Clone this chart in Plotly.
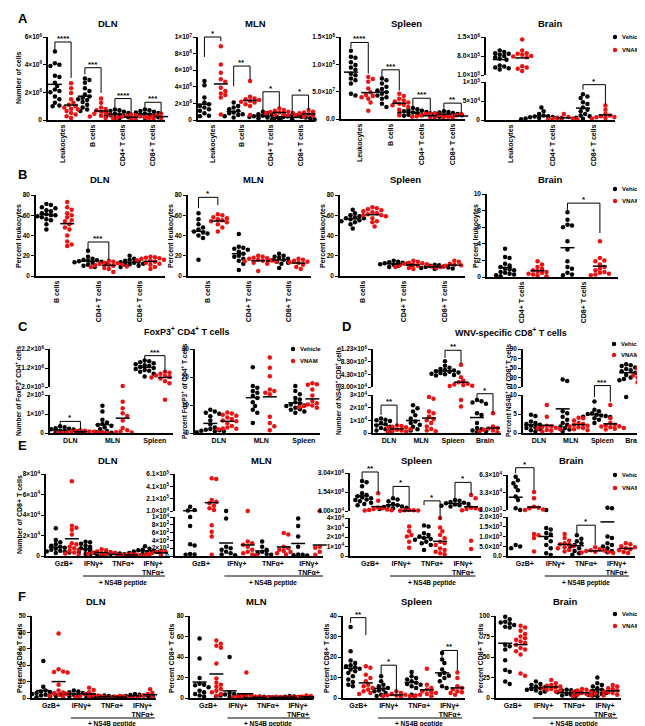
import plotly.graph_objects as go

W, H = 645, 726
BLACK = '#000000'
RED = '#ee1111'
FONT = 'Arial, Liberation Sans, Helvetica, sans-serif'
DIAM = 4.5

# ---------------- categories ----------------
A_cats = ['Leukocytes', 'B cells', 'CD4+ T cells', 'CD8+ T cells']
A_brain_cats = ['Leukocytes', 'CD4+ T cells', 'CD8+ T cells']
B_cats = ['B cells', 'CD4+ T cells', 'CD8+ T cells']
B_brain_cats = ['CD4+ T cells', 'CD8+ T cells']
C_cats = ['DLN', 'MLN', 'Spleen']
D_cats = ['DLN', 'MLN', 'Spleen', 'Brain']
E_cats = ['GzB+', 'IFNγ+', 'TNFα+', 'IFNγ+<br>TNFα+']

# ---------------- panel A : number of cells ----------------
A_DLN_veh = [
    [4.95e6, 4.1e6, 4.0e6, 3.9e6, 3.2e6, 3.1e6, 2.7e6, 2.45e6, 2.2e6, 2.1e6, 2.0e6, 1.7e6, 1.5e6, 1.25e6, 1.05e6, 1.0e6],
    [3.0e6, 2.9e6, 2.7e6, 2.3e6, 2.1e6, 1.85e6, 1.7e6, 1.6e6, 1.5e6, 1.45e6, 1.3e6, 1.1e6, 0.9e6, 0.75e6, 0.65e6],
    [7.5e5, 7.0e5, 6.5e5, 6.0e5, 5.5e5, 5.0e5, 4.5e5, 4.0e5, 3.5e5, 3.0e5, 2.5e5, 2.0e5, 1.5e5, 1.0e5],
    [7.5e5, 7.0e5, 6.5e5, 6.0e5, 5.5e5, 5.0e5, 4.5e5, 4.0e5, 3.5e5, 3.0e5, 2.5e5, 2.0e5, 1.5e5]]
A_DLN_vnam = [
    [2.65e6, 2.3e6, 1.95e6, 1.5e6, 1.25e6, 1.1e6, 1.0e6, 9.0e5, 8.2e5, 7.5e5, 6.5e5, 5.0e5, 4.0e5, 2.7e5, 1.5e5],
    [1.55e6, 1.25e6, 9.0e5, 8.0e5, 7.0e5, 6.0e5, 5.0e5, 4.5e5, 4.0e5, 3.0e5, 2.5e5, 1.5e5],
    [4.0e5, 3.5e5, 3.0e5, 2.8e5, 2.5e5, 2.0e5, 1.8e5, 1.5e5, 1.2e5, 1.0e5, 8.0e4, 5.0e4],
    [4.5e5, 4.0e5, 3.5e5, 3.0e5, 2.5e5, 2.0e5, 1.8e5, 1.5e5, 1.0e5, 8.0e4]]
A_MLN_veh = [
    [4.7e6, 4.2e6, 2.7e6, 2.1e6, 1.9e6, 1.7e6, 1.5e6, 1.3e6, 1.1e6, 8.0e5, 5.0e5, 4.5e5],
    [2.1e6, 1.7e6, 1.5e6, 1.3e6, 1.1e6, 9.0e5, 8.0e5, 7.0e5, 6.0e5, 4.5e5, 3.0e5],
    [1.0e6, 8.0e5, 7.0e5, 6.0e5, 5.0e5, 4.5e5, 4.0e5, 3.5e5, 3.0e5, 2.5e5, 2.0e5, 1.0e5],
    [6.0e5, 5.0e5, 4.5e5, 4.0e5, 3.5e5, 3.0e5, 2.5e5, 2.0e5, 1.5e5, 1.0e5, 5.0e4]]
A_MLN_vnam = [
    [8.9e6, 6.7e6, 5.7e6, 4.9e6, 4.6e6, 3.9e6, 3.5e6, 3.2e6, 3.0e6, 2.7e6, 6.5e5],
    [4.7e6, 2.8e6, 2.6e6, 2.5e6, 2.4e6, 2.3e6, 2.2e6, 2.1e6, 1.9e6, 1.7e6, 6.0e5],
    [1.4e6, 1.2e6, 1.1e6, 1.0e6, 9.5e5, 9.0e5, 8.5e5, 8.0e5, 7.0e5, 6.0e5, 5.0e5],
    [1.2e6, 1.0e6, 9.0e5, 8.5e5, 8.0e5, 7.5e5, 7.0e5, 6.0e5, 5.0e5, 4.0e5, 3.0e5]]
A_Spleen_veh = [
    [1.25e8, 1.14e8, 1.12e8, 1.04e8, 9.9e7, 9.4e7, 9.0e7, 8.3e7, 8.0e7, 7.4e7, 7.1e7, 6.5e7, 4.6e7, 4.3e7],
    [7.4e7, 7.1e7, 6.5e7, 5.9e7, 5.5e7, 5.2e7, 4.9e7, 4.6e7, 4.3e7, 4.0e7, 3.7e7, 2.8e7, 2.2e7],
    [2.0e7, 1.8e7, 1.6e7, 1.5e7, 1.4e7, 1.3e7, 1.2e7, 1.1e7, 1.0e7, 9.0e6, 8.0e6, 7.0e6, 6.0e6],
    [1.4e7, 1.3e7, 1.2e7, 1.1e7, 1.0e7, 9.0e6, 8.0e6, 7.0e6, 6.0e6, 5.0e6, 4.0e6]]
A_Spleen_vnam = [
    [7.7e7, 7.3e7, 6.8e7, 5.6e7, 4.9e7, 4.4e7, 4.2e7, 4.0e7, 3.7e7, 3.0e7, 1.5e7],
    [4.6e7, 4.2e7, 3.7e7, 3.4e7, 3.2e7, 3.0e7, 2.8e7, 2.6e7, 2.5e7, 2.2e7, 1.7e7, 7.0e6],
    [1.1e7, 1.0e7, 9.0e6, 8.0e6, 7.0e6, 6.0e6, 5.0e6, 4.5e6, 4.0e6, 3.0e6, 2.5e6, 2.0e6],
    [9.0e6, 8.0e6, 7.0e6, 6.0e6, 5.5e6, 5.0e6, 4.5e6, 4.0e6, 3.0e6, 2.0e6]]
A_Brain_veh = [
    [1.0e6, 9.5e5, 9.0e5, 8.8e5, 8.5e5, 8.0e5, 7.5e5, 7.0e5, 6.6e5, 4.5e5, 4.1e5, 3.8e5, 3.5e5, 3.0e5],
    [3.3e4, 2.3e4, 1.6e4, 1.2e4, 1.0e4, 9.0e3, 8.0e3, 7.0e3, 6.0e3, 5.0e3, 4.0e3, 3.0e3, 2.0e3],
    [6.8e4, 6.2e4, 5.8e4, 4.7e4, 4.2e4, 3.3e4, 2.7e4, 2.3e4, 1.6e4, 1.2e4, 1.0e4, 6.0e3, 3.0e3]]
A_Brain_vnam = [
    [1.41e6, 1.0e6, 9.0e5, 8.8e5, 8.5e5, 8.0e5, 7.8e5, 7.5e5, 4.2e5, 3.8e5, 3.3e5, 2.5e5],
    [1.6e4, 8.0e3, 6.0e3, 5.0e3, 4.0e3, 3.0e3, 2.0e3, 1.0e3],
    [3.8e4, 2.7e4, 1.6e4, 1.2e4, 1.0e4, 8.0e3, 7.0e3, 6.0e3, 5.0e3, 4.0e3]]

# ---------------- panel B : percent leukocytes ----------------
B_DLN_veh = [
    [71, 70, 68, 67, 65, 64, 62, 61, 60, 60, 59, 58, 56, 55, 51, 46],
    [25, 19, 17, 16, 15.5, 15, 14.5, 14, 13.5, 13, 12, 11, 10, 9],
    [20, 17, 16, 15, 14, 13.5, 13, 12, 11.5, 11, 10, 9]]
B_DLN_vnam = [
    [73, 68, 65.5, 62, 60, 58, 55, 54, 51, 48, 46, 40, 34, 31, 29.6],
    [15, 14, 13, 12.5, 12, 11.5, 11, 10.5, 10, 9.5, 9, 8, 7, 4],
    [19, 18.5, 18, 17.5, 17, 16, 15.5, 15, 14.5, 14, 13, 12, 11, 9, 7]]
B_MLN_veh = [
    [62, 56, 51, 48, 46, 44, 43, 42, 40, 37.5, 16],
    [41.5, 29, 28, 27, 26, 24, 22, 20, 19, 17, 15, 12, 6],
    [22, 20, 19, 18, 17, 16, 15.5, 15, 14, 13, 12, 8]]
B_MLN_vnam = [
    [61, 60, 58, 57, 56, 55, 54, 53, 51, 48, 44],
    [20, 19, 18, 17.5, 17, 16, 15.5, 15, 14.5, 14, 13, 12, 5],
    [17, 16, 15, 14, 13.5, 13, 12, 11, 9, 7]]
B_Spleen_veh = [
    [65.5, 62, 60, 59, 58, 57, 57, 56, 55, 54, 53, 51, 47],
    [15, 14, 13.5, 13, 12.5, 12, 11.5, 11, 10.5, 10, 9],
    [11, 10.5, 10, 9.5, 9, 8.5, 8, 7.5, 7]]
B_Spleen_vnam = [
    [68, 67, 66, 65, 64, 63, 62, 61, 60, 60, 59, 57, 54, 53, 49],
    [15, 14, 13, 12.5, 12, 11.5, 11, 10.5, 10, 9.5, 9, 8, 7],
    [15, 14, 12, 11, 10.5, 10, 9.5, 9, 8.5, 8]]
B_Brain_veh = [
    [3.4, 2.4, 2.3, 1.6, 1.4, 1.2, 1.0, 0.9, 0.8, 0.6, 0.5, 0.4, 0.3, 0.2, 0.1],
    [7.8, 6.9, 6.3, 6.2, 6.0, 4.3, 3.3, 1.9, 1.2, 1.0, 0.5, 0.3, 0.2]]
B_Brain_vnam = [
    [1.9, 1.5, 1.2, 1.0, 0.8, 0.7, 0.6, 0.5, 0.4, 0.3, 0.2, 0.1],
    [4.3, 2.3, 2.0, 1.9, 1.5, 1.2, 1.0, 0.8, 0.6, 0.5, 0.4, 0.3, 0.2]]

# ---------------- panel C : FoxP3+ CD4+ T cells ----------------
C_num_veh = [
    [35000, 30000, 25000, 22000, 20000, 18000, 15000, 12000, 10000, 8000, 6000, 5000, 3000, 2000],
    [143000, 113000, 70000, 55000, 48000, 42000, 38000, 30000, 20000, 10000, 5000, 2000, 1000],
    [1.6e6, 1.55e6, 1.5e6, 1.45e6, 1.4e6, 1.35e6, 1.3e6, 1.25e6, 1.2e6, 1.15e6, 1.1e6, 1.05e6, 1.0e6, 9.0e5, 7.5e5]]
C_num_vnam = [
    [15000, 12000, 10000, 8000, 7000, 6000, 5000, 4000, 3000, 2000, 1000, 500],
    [250000, 165000, 130000, 104000, 90000, 66000, 26000, 14000, 8000, 4000, 2000],
    [1.0e6, 9.5e5, 9.0e5, 8.5e5, 8.0e5, 7.8e5, 7.5e5, 7.2e5, 7.0e5, 6.5e5, 6.0e5, 5.0e5, 4.0e5, 175000]]
C_pct_veh = [
    [8.3, 7.7, 7.2, 6.9, 6.0, 4.5, 3.0, 2.0, 1.4, 1.2, 1.0, 0.8, 0.6, 0.5, 0.3],
    [23.5, 16.8, 16.2, 15.0, 14.4, 13.3, 12.5, 11.0, 9.6, 8.3, 7.2, 3.6],
    [16.8, 15.0, 13.8, 12.5, 12.0, 11.0, 10.5, 10.2, 9.8, 9.6, 9.0, 8.5, 8.3, 7.7, 7.2]]
C_pct_vnam = [
    [7.3, 7.0, 6.5, 6.2, 5.5, 5.0, 4.5, 4.2, 3.5, 2.5, 2.0, 1.6, 1.5, 1.3],
    [27.0, 23.3, 20.3, 15.5, 15.0, 14.4, 13.8, 5.8, 3.6, 2.4, 1.0],
    [17.8, 17.4, 17.2, 15.5, 13.4, 11.4, 10.6, 10.2, 10.0, 9.8, 9.6, 9.4, 9.2, 9.0]]

# ---------------- panel D : WNV-specific CD8+ T cells ----------------
D_num_veh = [
    [11500, 10500, 10000, 9500, 9000, 8000, 7000, 6000, 5000, 4000, 3000, 2000, 1000],
    [22000, 19500, 17000, 14000, 11500, 9000, 7800, 6500, 5000, 3000, 2000, 1000],
    [840000, 700000, 640000, 600000, 570000, 550000, 530000, 510000, 490000, 470000, 450000, 430000, 410000, 390000],
    [26000, 25000, 24000, 23000, 15600, 14300, 7800, 3900, 3000, 2000, 1300, 500]]
D_num_vnam = [
    [6000, 5500, 5000, 4500, 4000, 3000, 2500, 2000, 1500, 1000, 500],
    [28500, 27000, 17000, 15600, 13000, 11000, 10000, 7800, 5200, 3100, 2000, 1300],
    [730000, 340000, 230000, 180000, 130000, 110000, 90000, 70000, 60000, 26000, 21000],
    [15600, 5200, 4000, 3500, 3000, 2500, 2000, 1500, 1000, 500]]
D_pct_veh = [
    [4.8, 4.5, 3.0, 2.6, 2.4, 2.2, 1.9, 1.7, 1.5, 1.3, 1.0, 0.7, 0.4],
    [26, 22.5, 5.7, 5.2, 4.3, 3.5, 2.6, 2.2, 1.7, 1.3, 0.9, 0.4],
    [8.3, 6.1, 5.7, 5.2, 5.0, 4.8, 4.6, 4.5, 4.3, 4.2, 3.9, 3.5, 2.6],
    [58, 56, 54, 51, 48, 45, 43, 40, 35, 30, 27, 24, 9.5]]
D_pct_vnam = [
    [7.4, 4.3, 1.9, 1.7, 1.6, 1.4, 1.2, 1.0, 0.8, 0.6, 0.3],
    [4.0, 3.9, 3.3, 2.6, 2.4, 2.2, 1.9, 1.7, 1.5, 1.3, 1.0, 0.7],
    [7.4, 3.9, 2.6, 2.2, 2.0, 1.8, 1.7, 1.5, 1.3, 1.1, 0.9],
    [54, 52, 50, 48, 45, 42, 40, 38, 36, 34, 32, 30, 27, 24, 20]]

# ---------------- panel E : number of CD8+ T cells ----------------
E_DLN_veh = [
    [27000, 15500, 13500, 11500, 10000, 9000, 8000, 7000, 6000, 5000, 4500, 4000, 3500, 3000, 2500],
    [14000, 13500, 12000, 10000, 9000, 7500, 6000, 5000, 4000, 3000, 2000, 1000],
    [3000, 2500, 2000, 1800, 1500, 1200, 1000, 800, 500],
    [9500, 7000, 6000, 5500, 5000, 4500, 4000, 3500, 3000, 2000]]
E_DLN_vnam = [
    [73000, 29500, 27500, 25500, 21000, 12500, 11500, 9000, 7500, 6000, 5000, 3500, 2500, 1500],
    [6500, 5500, 4500, 4000, 3500, 3000, 2500, 2000, 1500, 1000],
    [2000, 1500, 1200, 1000, 800, 600, 500, 300],
    [5000, 4500, 4000, 3500, 3000, 2500, 2000, 1500, 1000]]
E_MLN_veh = [
    [79000, 26000, 18000, 10000, 7700, 3000, 2700, 500, 400, 300],
    [12000, 9600, 2400, 2000, 1600, 1100, 700, 400, 200],
    [3700, 2400, 1600, 1100, 700, 500, 300, 100],
    [9600, 7700, 5000, 2400, 400, 300, 200, 100]]
E_MLN_vnam = [
    [540000, 530000, 190000, 160000, 134000, 96000, 53000, 26000, 7900, 6200, 5000, 300],
    [12000, 3700, 3300, 2900, 2400, 1600, 1100, 700, 400, 200],
    [5900, 5500, 2400, 2000, 1600, 1300, 1000, 700, 400],
    [12000, 2400, 2300, 2100, 1600, 1100, 700, 300]]
E_Spleen_veh = [
    [2.4e6, 2.3e6, 2.0e6, 1.45e6, 1.3e6, 1.2e6, 1.1e6, 1.05e6, 9.5e5, 9.0e5, 8.0e5, 7.0e5, 6.0e5, 5.0e5],
    [1.05e6, 9.5e5, 8.0e5, 6.0e5, 5.0e5, 4.5e5, 4.0e5, 3.5e5, 3.0e5, 2.5e5, 2.0e5],
    [32000, 31000, 24000, 22000, 20500, 19000, 18000, 17000, 15000, 13500, 11700, 6400],
    [9.0e5, 8.4e5, 7.5e5, 7.0e5, 6.5e5, 6.0e5, 5.5e5, 5.0e5, 4.5e5, 4.0e5]]
E_Spleen_vnam = [
    [1.45e6, 8.5e5, 3.0e5, 2.5e5, 2.0e5, 1.6e5, 1.2e5, 1.0e5, 8.0e4],
    [1.2e5, 1.0e5, 9.0e4, 7.0e4, 5.0e4, 31000, 26000, 22000, 20500, 15000, 8800],
    [40000, 30000, 26000, 22000, 18800, 15000, 13500, 11700, 8000, 6400, 4600, 2800, 1800],
    [1.3e6, 1.05e6, 3.0e5, 2.5e5, 2.0e5, 1.5e5, 1.0e5, 16000, 7400]]
E_Brain_veh = [
    [60000, 54000, 49000, 43000, 37000, 26000, 20000, 5900, 3100, 570, 490, 400],
    [3100, 1440, 1360, 1180, 1100, 920, 750, 570, 400, 140, 50],
    [1060, 890, 750, 660, 570, 490, 400, 260, 140, 60],
    [7000, 6000, 1000, 920, 660, 570, 490, 400, 260, 190]]
E_Brain_vnam = [
    [34000, 23000, 8700, 7000, 6000, 4000, 3100, 1130, 1060, 920, 226],
    [1130, 920, 780, 660, 600, 570, 500, 450, 400, 310, 230],
    [450, 350, 300, 280, 250, 220, 200, 180, 150],
    [650, 600, 500, 450, 400, 350, 300, 250, 200, 150]]

# ---------------- panel F : percent CD8+ T cells ----------------
F_DLN_veh = [
    [22.5, 6.8, 4.5, 4.0, 3.5, 3.0, 2.8, 2.5, 2.0, 1.5, 1.0, 0.5],
    [4.5, 4.0, 3.5, 3.0, 2.8, 2.5, 2.2, 2.0, 1.8, 1.5, 1.2, 1.0],
    [1.5, 1.2, 1.0, 0.8, 0.6, 0.5, 0.4, 0.3, 0.2],
    [2.5, 2.0, 1.8, 1.5, 1.2, 1.0, 0.8, 0.6, 0.4]]
F_DLN_vnam = [
    [39.3, 17.6, 16.2, 15.8, 15.6, 8.1, 4.5, 3.4, 2.8, 2.4, 2.0, 1.4, 0.8],
    [6.2, 4.9, 3.5, 2.5, 2.0, 1.5, 1.2, 1.0, 0.8, 0.5],
    [1.2, 1.0, 0.8, 0.6, 0.5, 0.4, 0.3, 0.2],
    [5.3, 3.0, 2.5, 2.0, 1.5, 1.2, 1.0, 0.8, 0.5]]
F_MLN_veh = [
    [58, 38.5, 19.4, 14, 13, 12.5, 10.5, 7, 5.5, 4, 2.5, 1.5],
    [40, 5, 4, 3.5, 3, 2.5, 2, 1.5, 1],
    [1.5, 1.2, 1.0, 0.8, 0.6, 0.5, 0.4, 0.3, 0.2, 0.1],
    [2.0, 1.5, 1.2, 1.0, 0.8, 0.6, 0.5, 0.4, 0.3, 0.2]]
F_MLN_vnam = [
    [56, 53, 51, 49, 33.7, 19, 15, 13, 11, 8.7, 7, 5.5, 4, 2.3],
    [25, 3, 2.5, 2, 1.5, 1.2, 1.0, 0.8, 0.5],
    [1.2, 1.0, 0.8, 0.6, 0.5, 0.4, 0.3, 0.2],
    [2.5, 2.0, 1.5, 1.2, 1.0, 0.8, 0.6, 0.4, 0.2]]
F_Spleen_veh = [
    [34.6, 22.8, 18.3, 17.1, 16, 15.5, 15, 14.3, 13.9, 13, 12.2, 10.6, 9, 7.8, 6.5, 5.7],
    [10.6, 8.2, 6.5, 5.7, 4.9, 4.1, 3.6, 3.3, 2.4, 1.6, 1.0],
    [12.7, 10.6, 9.8, 9.0, 8.2, 7.5, 6.8, 6.5, 5.7, 4.9, 1.6],
    [22, 18.8, 17.1, 13.9, 12.2, 11.4, 10.8, 9.8, 8.2, 5.7, 4.9]]
F_Spleen_vnam = [
    [15.5, 14.7, 11.4, 9.8, 8.2, 6.5, 5.7, 4.9, 4.1, 3.3, 2.4, 2.0],
    [3.3, 2.4, 2.0, 1.6, 1.4, 1.2, 1.0, 0.8, 0.6, 0.4],
    [14.3, 6.5, 4.9, 4.1, 3.3, 2.8, 2.4, 2.0, 1.6, 1.2, 0.8],
    [12.5, 9.8, 5.7, 4.9, 4.1, 3.3, 2.8, 2.4, 2.0, 1.6]]
F_Brain_veh = [
    [99, 96, 93, 92, 91, 89, 87, 86, 65, 63, 59, 46, 34, 32, 20, 17],
    [20, 17, 16, 14, 13, 12, 11, 10, 9, 8, 6],
    [10, 9.5, 9, 8, 7, 6, 5, 4, 3, 2.5],
    [25, 18, 16, 14, 12, 10, 8, 7, 6, 5, 4, 3, 2]]
F_Brain_vnam = [
    [88, 86, 82, 78, 75, 73, 71, 69, 67, 65, 61, 59, 57, 53, 30, 27],
    [22, 18, 16, 15, 14, 13, 12, 11, 10, 9, 8],
    [11, 10, 9, 8, 7, 6, 5.5, 5, 4, 3, 2],
    [16, 14, 12, 11, 10, 9, 8, 7, 6, 5, 4, 3]]

# ---------------- tick labels (values, texts) ----------------
def S(m, e):
    return f'{m}×10<sup>{e}</sup>'

T_A_DLN = ([0, 2e6, 4e6, 6e6], ['0', S(2, 6), S(4, 6), S(6, 6)])
T_A_MLN = ([0, 2e6, 4e6, 6e6, 8e6, 1e7], ['0', S(2, 6), S(4, 6), S(6, 6), S(8, 6), S(1, 7)])
T_A_SPL = ([0, 5e7, 1e8, 1.5e8], ['0.0', S('5.0', 7), S('1.0', 8), S('1.5', 8)])
T_A_BRN_LO = ([0, 5e4, 1e5], ['0', S(5, 4), S(1, 5)])
T_A_BRN_HI = ([1e5, 8e5, 1.5e6], [S('1.0', 5), S('8.0', 5), S('1.5', 6)])
T_B = ([0, 20, 40, 60, 80], ['0', '20', '40', '60', '80'])
T_B_BRN = ([0, 2, 4, 6, 8, 10], ['0', '2', '4', '6', '8', '10'])
T_C_LO = ([0, 1e5, 2e5], ['0', S(1, 5), S(2, 5)])
T_C_HI = ([2e5, 1.2e6, 2.2e6], [S('2.0', 5), S('1.2', 6), S('2.2', 6)])
T_C_PCT = ([0, 10, 20, 30], ['0', '10', '20', '30'])
T_D_LO = ([0, 1e4, 2e4, 3e4], ['0', S(1, 4), S(2, 4), S(3, 4)])
T_D_HI = ([3e4, 4.3e5, 8.3e5, 1.23e6], [S('3.00', 4), S('4.30', 5), S('8.30', 5), S('1.23', 6)])
T_D_PCT_LO = ([0, 5, 10], ['0', '5', '10'])
T_D_PCT_HI = ([10, 30, 50, 70, 90], ['10', '30', '50', '70', '90'])
T_E_DLN = ([0, 2e4, 4e4, 6e4, 8e4], ['0', S(2, 4), S(4, 4), S(6, 4), S(8, 4)])
T_E_MLN_LO = ([0, 2e3, 4e3, 6e3, 8e3, 1e4], ['0', S(2, 3), S(4, 3), S(6, 3), S(8, 3), S(1, 4)])
T_E_MLN_HI = ([1e4, 2.1e5, 4.1e5, 6.1e5], [S('1.0', 4), S('2.1', 5), S('4.1', 5), S('6.1', 5)])
T_E_SPL_LO = ([0, 1e4, 2e4, 3e4, 4e4], ['0', S(1, 4), S(2, 4), S(3, 4), S(4, 4)])
T_E_SPL_HI = ([4e4, 1.54e6, 3.04e6], [S('4.00', 4), S('1.54', 6), S('3.04', 6)])
T_E_BRN_LO = ([0, 500, 1000, 1500, 2000], ['0.0', S('5.0', 2), S('1.0', 3), S('1.5', 3), S('2.0', 3)])
T_E_BRN_HI = ([3e3, 3.3e4, 6.3e4], [S('3.0', 3), S('3.3', 4), S('6.3', 4)])
T_F_DLN = ([0, 10, 20, 30, 40, 50], ['0', '10', '20', '30', '40', '50'])
T_F_MLN = ([0, 20, 40, 60, 80], ['0', '20', '40', '60', '80'])
T_F_SPL = ([0, 10, 20, 30, 40], ['0', '10', '20', '30', '40'])
T_F_BRN = ([0, 25, 50, 75, 100], ['0', '25', '50', '75', '100'])

# ---------------- significance brackets (category, stars, top, left end, right end) ----------------
A_DLN_sig = [(0, '****', 5.64e6, 5.0e6, 3.05e6), (1, '***', 3.78e6, 3.3e6, 1.96e6),
             (2, '****', 1.55e6, 0.87e6, 0.5e6), (3, '***', 1.28e6, 0.75e6, 0.44e6)]
A_MLN_sig = [(0, '*', 1.0e7, 7.6e6, 9.5e6), (1, '**', 6.5e6, 4.07e6, 4.9e6),
             (2, '*', 3.4e6, 0.65e6, 1.45e6), (3, '*', 3.0e6, 0.65e6, 1.25e6)]
A_SPL_sig = [(0, '****', 1.4e8, 1.3e8, 8.3e7), (1, '***', 9.0e7, 7.7e7, 5.2e7),
             (2, '***', 3.8e7, 2.0e7, 1.2e7), (3, '**', 2.9e7, 1.5e7, 0.9e7)]
A_BRN_sig = [(2, '*', (0, 9.3e4), (0, 8.0e4), (0, 4.0e4))]
B_DLN_sig = [(1, '***', 33.6, 26, 16)]
B_MLN_sig = [(0, '*', 77.7, 67, 70)]
B_BRN_sig = [(1, '*', 8.9, 8.1, 5.3)]
C_num_sig = [(0, '*', (0, 6.1e4), (0, 2.6e4), (0, 1.4e4)), (2, '***', (1, 1.85e6), (1, 1.47e6), (1, 0.95e6))]
D_num_sig = [(0, '**', (0, 2.2e4), (0, 1.43e4), (0, 5.7e3)), (2, '**', (1, 1.19e6), (1, 0.95e6), (1, 0.77e6)),
             (3, '*', (0, 3.1e4), (0, 2.5e4), (0, 1.6e4))]
D_pct_sig = [(2, '***', (1, 13), (0, 9.5), (0, 8.2))]
E_SPL_sig = [(0, '**', (1, 3.12e6), (1, 2.51e6), (1, 1.45e6)), (1, '*', (1, 1.98e6), (1, 1.18e6), (1, 2.5e5)),
             (2, '*', (1, 8.4e5), (1, 5.0e5), (0, 3.8e4)), (3, '*', (1, 2.3e6), (1, 1.05e6), (1, 1.31e6))]
E_BRN_sig = [(0, '*', (1, 7.55e4), (1, 6.6e4), (1, 3.7e4)), (2, '*', (0, 1.58e3), (0, 1.13e3), (0, 574))]
F_SPL_sig = [(0, '**', 39.2, 36.7, 30.7), (1, '*', 16, 11.4, 2.4), (3, '**', 23.2, 19.9, 13.4)]


# ---------------- layout helpers ----------------
def seg(top, bottom, rng, ticks):
    return dict(px=(top, bottom), range=rng, tickvals=ticks[0], ticktext=ticks[1])


PANELS = [
    # row A
    dict(xpx=(40, 157), xrange=[-0.5, 3.4], off=0.27, cats=A_cats, veh=A_DLN_veh, vnam=A_DLN_vnam,
         segs=[seg(29, 112, [0, 6e6], T_A_DLN)], tickangle=-90, sig=A_DLN_sig),
    dict(xpx=(190, 307), xrange=[-0.5, 3.5], off=0.28, cats=A_cats, veh=A_MLN_veh, vnam=A_MLN_vnam,
         segs=[seg(29, 112, [0, 1e7], T_A_MLN)], tickangle=-90, sig=A_MLN_sig),
    dict(xpx=(333, 457), xrange=[-0.6, 3.4], off=0.28, cats=A_cats, veh=A_Spleen_veh, vnam=A_Spleen_vnam,
         segs=[seg(29, 111, [0, 1.5e8], T_A_SPL)], tickangle=-90, sig=A_SPL_sig),
    dict(xpx=(478, 607), xrange=[-0.6, 2.5], off=0.27, cats=A_brain_cats, veh=A_Brain_veh, vnam=A_Brain_vnam,
         segs=[seg(74, 112, [0, 1e5], T_A_BRN_LO), seg(29, 67, [1e5, 1.5e6], T_A_BRN_HI)],
         tickangle=-90, sig=A_BRN_sig),
    # row B
    dict(xpx=(28, 157), xrange=[-0.5, 2.6], off=0.25, cats=B_cats, veh=B_DLN_veh, vnam=B_DLN_vnam,
         segs=[seg(187, 268, [0, 80], T_B)], tickangle=-90, sig=B_DLN_sig),
    dict(xpx=(180, 303), xrange=[-0.5, 2.55], off=0.24, cats=B_cats, veh=B_MLN_veh, vnam=B_MLN_vnam,
         segs=[seg(187, 268, [0, 80], T_B)], tickangle=-90, sig=B_MLN_sig),
    dict(xpx=(332, 457), xrange=[-0.55, 2.5], off=0.24, cats=B_cats, veh=B_Spleen_veh, vnam=B_Spleen_vnam,
         segs=[seg(187, 268, [0, 80], T_B)], tickangle=-90, sig=[]),
    dict(xpx=(479, 610), xrange=[-0.55, 1.55], off=0.26, cats=B_brain_cats, veh=B_Brain_veh, vnam=B_Brain_vnam,
         segs=[seg(186, 269, [0, 10], T_B_BRN)], tickangle=-90, sig=B_BRN_sig),
    # row C / D
    dict(xpx=(42, 165), xrange=[-0.48, 2.43], off=0.24, cats=C_cats, veh=C_num_veh, vnam=C_num_vnam,
         segs=[seg(387, 425, [0, 2e5], T_C_LO), seg(341, 379, [2e5, 2.2e6], T_C_HI)], sig=C_num_sig),
    dict(xpx=(187, 312), xrange=[-0.56, 2.38], off=0.2, cats=C_cats, veh=C_pct_veh, vnam=C_pct_vnam,
         segs=[seg(341, 425, [0, 30], T_C_PCT)], sig=[]),
    dict(xpx=(365, 493), xrange=[-0.5, 3.5], off=0.25, cats=D_cats, veh=D_num_veh, vnam=D_num_vnam,
         segs=[seg(387, 425, [0, 3e4], T_D_LO), seg(341, 379, [3e4, 1.23e6], T_D_HI)], sig=D_num_sig),
    dict(xpx=(515, 642), xrange=[-0.5, 3.5], off=0.25, cats=D_cats, veh=D_pct_veh, vnam=D_pct_vnam,
         segs=[seg(387, 425, [0, 10], T_D_PCT_LO), seg(341, 379, [10, 90], T_D_PCT_HI)], sig=D_pct_sig),
    # row E
    dict(xpx=(38, 162), xrange=[-0.6, 3.57], off=0.27, cats=E_cats, veh=E_DLN_veh, vnam=E_DLN_vnam,
         segs=[seg(466, 548, [0, 8e4], T_E_DLN)], sig=[], ns4b=(568, 575)),
    dict(xpx=(167, 315), xrange=[-0.72, 3.39], off=0.3, cats=E_cats, veh=E_MLN_veh, vnam=E_MLN_vnam,
         segs=[seg(509, 548, [0, 1e4], T_E_MLN_LO), seg(466, 503, [1e4, 6.1e5], T_E_MLN_HI)], sig=[],
         ns4b=(568, 575)),
    dict(xpx=(342, 473), xrange=[-0.65, 3.58], off=0.26, cats=E_cats, veh=E_Spleen_veh, vnam=E_Spleen_vnam,
         segs=[seg(510, 548, [0, 4e4], T_E_SPL_LO), seg(465, 503, [4e4, 3.04e6], T_E_SPL_HI)], sig=E_SPL_sig,
         ns4b=(568, 575)),
    dict(xpx=(500, 627), xrange=[-0.55, 3.6], off=0.3, cats=E_cats, veh=E_Brain_veh, vnam=E_Brain_vnam,
         segs=[seg(509, 548, [0, 2e3], T_E_BRN_LO), seg(467, 502, [3e3, 6.3e4], T_E_BRN_HI)], sig=E_BRN_sig,
         ns4b=(568, 575)),
    # row F
    dict(xpx=(24, 148), xrange=[-0.62, 3.44], off=0.25, cats=E_cats, veh=F_DLN_veh, vnam=F_DLN_vnam,
         segs=[seg(608, 690, [0, 50], T_F_DLN)], sig=[], ns4b=(710, 716)),
    dict(xpx=(182, 305), xrange=[-0.6, 3.5], off=0.28, cats=E_cats, veh=F_MLN_veh, vnam=F_MLN_vnam,
         segs=[seg(608, 690, [0, 80], T_F_MLN)], sig=[], ns4b=(710, 716)),
    dict(xpx=(335, 457), xrange=[-0.5, 3.5], off=0.25, cats=E_cats, veh=F_Spleen_veh, vnam=F_Spleen_vnam,
         segs=[seg(608, 690, [0, 40], T_F_SPL)], sig=F_SPL_sig, ns4b=(710, 716)),
    dict(xpx=(488, 613), xrange=[-0.55, 3.52], off=0.25, cats=E_cats, veh=F_Brain_veh, vnam=F_Brain_vnam,
         segs=[seg(608, 690, [0, 100], T_F_BRN)], sig=[], ns4b=(710, 716)),
]

TEXTS = [  # (x px, y px, text, size, angle, anchor)
    (8, 11, 'A', 13, 0, 'left'), (8, 167, 'B', 13, 0, 'left'), (8, 318, 'C', 13, 0, 'left'),
    (332, 318, 'D', 13, 0, 'left'), (8, 437, 'E', 13, 0, 'left'), (8, 588, 'F', 13, 0, 'left'),
    (100, 15, 'DLN', 9.5, 0, 'center'), (247, 15, 'MLN', 9.5, 0, 'center'),
    (398, 15, 'Spleen', 9.5, 0, 'center'), (542, 15, 'Brain', 9.5, 0, 'center'),
    (92, 172, 'DLN', 9.5, 0, 'center'), (245, 172, 'MLN', 9.5, 0, 'center'),
    (397, 172, 'Spleen', 9.5, 0, 'center'), (542, 172, 'Brain', 9.5, 0, 'center'),
    (178, 323, 'FoxP3<sup>+</sup> CD4<sup>+</sup> T cells', 9, 0, 'center'),
    (503, 324, 'WNV-specific CD8<sup>+</sup> T cells', 9, 0, 'center'),
    (100, 452, 'DLN', 9.5, 0, 'center'), (253, 452, 'MLN', 9.5, 0, 'center'),
    (408, 452, 'Spleen', 9.5, 0, 'center'), (563, 452, 'Brain', 9.5, 0, 'center'),
    (88, 593, 'DLN', 9.5, 0, 'center'), (248, 593, 'MLN', 9.5, 0, 'center'),
    (408, 593, 'Spleen', 9.5, 0, 'center'), (557, 593, 'Brain', 9.5, 0, 'center'),
    # y-axis titles
    (11, 70, 'Number of cells', 7, -90, 'center'),
    (11, 228, 'Percent leukocytes', 7, -90, 'center'), (163, 228, 'Percent leukocytes', 7, -90, 'center'),
    (315, 228, 'Percent leukocytes', 7, -90, 'center'), (468, 228, 'Percent leukocytes', 7, -90, 'center'),
    (10, 383, 'Number of FoxP3<sup>+</sup> CD4<sup>+</sup> cells', 6.5, -90, 'center'),
    (176, 383, 'Percent FoxP3<sup>+</sup> of CD4<sup>+</sup> T cells', 6.5, -90, 'center'),
    (330, 383, 'Number of NS4B<sup>+</sup> CD8<sup>+</sup> cells', 6.5, -90, 'center'),
    (500, 383, 'Percent NS4B<sup>+</sup> of CD8<sup>+</sup> T cells', 6.5, -90, 'center'),
    (11, 507, 'Number of CD8+ T cells', 7, -90, 'center'),
    (11, 650, 'Percent CD8+ T cells', 7, -90, 'center'), (163, 650, 'Percent CD8+ T cells', 7, -90, 'center'),
    (318, 650, 'Percent CD8+ T cells', 7, -90, 'center'), (472, 650, 'Percent CD8+ T cells', 7, -90, 'center'),
]

LEGENDS = [(607, 29, 42), (607, 181, 193), (285, 341, 353), (606, 336, 347), (607, 467, 480), (607, 606, 618)]


def seg_index(segs, v):
    if len(segs) == 1:
        return 0
    return 0 if v <= segs[0]['range'][1] else 1


def value_py(segs, spec):
    if isinstance(spec, tuple):
        si, v = spec
    else:
        si, v = seg_index(segs, spec), spec
    s = segs[si]
    lo, hi = s['range']
    top, bot = s['px']
    return bot - (v - lo) / (hi - lo) * (bot - top)


def swarm(pys, diam):
    order = sorted(range(len(pys)), key=lambda i: pys[i])
    placed = []
    out = [0.0] * len(pys)
    step = diam * 0.5
    for i in order:
        y = pys[i]
        x = 0.0
        for m in range(0, 80):
            k = ((m + 1) // 2) * (1 if m % 2 else -1)
            x = k * step
            if all((x - px) ** 2 + (y - py) ** 2 >= (diam * 0.9) ** 2 for px, py in placed):
                break
        placed.append((x, y))
        out[i] = x
    return out


def aref(kind, n):
    return kind if n == 1 else f'{kind}{n}'


def akey(kind, n):
    return f'{kind}axis' if n == 1 else f'{kind}axis{n}'


fig = go.Figure()
layout = {}
shapes = []
annots = []
point_traces = []
mean_traces = []
cnt = {'x': 0, 'y': 0}

for p in PANELS:
    cnt['x'] += 1
    xi = cnt['x']
    segs = p['segs']
    yids = []
    for _ in segs:
        cnt['y'] += 1
        yids.append(cnt['y'])
    x0, x1 = p['xpx']
    xr = p['xrange']
    ppu = (x1 - x0) / (xr[1] - xr[0])
    xref = aref('x', xi)
    layout[akey('x', xi)] = dict(
        domain=[x0 / W, x1 / W], range=xr, anchor=aref('y', yids[0]),
        tickmode='array', tickvals=list(range(len(p['cats']))), ticktext=p['cats'],
        tickangle=p.get('tickangle', 0), showline=True, linecolor=BLACK, linewidth=1.5,
        ticks='', showgrid=False, zeroline=False, fixedrange=True, automargin=False,
        tickfont=dict(family=FONT, size=7, color=BLACK, weight='bold'))
    for s, yid in zip(segs, yids):
        layout[akey('y', yid)] = dict(
            domain=[1 - s['px'][1] / H, 1 - s['px'][0] / H], range=s['range'], anchor=xref,
            tickmode='array', tickvals=s['tickvals'], ticktext=s['ticktext'],
            ticks='outside', ticklen=3, tickwidth=1, tickcolor=BLACK,
            showline=True, linecolor=BLACK, linewidth=1.5, showgrid=False, zeroline=False,
            fixedrange=True, automargin=False,
            tickfont=dict(family=FONT, size=6.5, color=BLACK, weight='bold'))
    off = p['off']
    for series, color, side in ((p['veh'], BLACK, -1), (p['vnam'], RED, 1)):
        for si, yid in enumerate(yids):
            xs, ys, mx, my = [], [], [], []
            for ci, vals in enumerate(series):
                sel = [v for v in vals if seg_index(segs, v) == si]
                offs = swarm([value_py(segs, (si, v)) for v in sel], DIAM)
                xs += [ci + side * off + o / ppu for o in offs]
                ys += sel
                m = sum(vals) / len(vals)
                if seg_index(segs, m) == si:
                    mx.append(ci + side * off)
                    my.append(m)
            point_traces.append(go.Scatter(
                x=xs, y=ys, xaxis=xref, yaxis=aref('y', yid), mode='markers', cliponaxis=False,
                marker=dict(color=color, size=DIAM, line=dict(width=0)), hoverinfo='skip', showlegend=False))
            mean_traces.append(go.Scatter(
                x=mx, y=my, xaxis=xref, yaxis=aref('y', yid), mode='markers', cliponaxis=False,
                marker=dict(symbol='line-ew', size=10, color=BLACK, line=dict(color=BLACK, width=1.5)),
                hoverinfo='skip', showlegend=False))
    for ci, stars, top, left, right in p['sig']:
        yt = 1 - value_py(segs, top) / H
        yl = 1 - value_py(segs, left) / H
        yr = 1 - value_py(segs, right) / H
        xl, xrr = ci - off, ci + off
        shapes.append(dict(type='path', xref=xref, yref='paper',
                           path=f'M {xl},{yl} L {xl},{yt} L {xrr},{yt} L {xrr},{yr}',
                           line=dict(color=BLACK, width=1)))
        annots.append(dict(x=ci, y=yt, xref=xref, yref='paper', text=stars, showarrow=False,
                           xanchor='center', yanchor='bottom', yshift=-3,
                           font=dict(family=FONT, size=8, color=BLACK, weight='bold')))
    if 'ns4b' in p:
        ly, ty = p['ns4b']
        shapes.append(dict(type='line', xref=xref, yref='paper', x0=0.65, x1=3.4,
                           y0=1 - ly / H, y1=1 - ly / H, line=dict(color=BLACK, width=1)))
        annots.append(dict(x=2.0, y=1 - ty / H, xref=xref, yref='paper', text='+ NS4B peptide',
                           showarrow=False, xanchor='center', yanchor='middle',
                           font=dict(family=FONT, size=6.5, color=BLACK, weight='bold')))

for t in point_traces + mean_traces:
    fig.add_trace(t)

for x, y, text, size, angle, anchor in TEXTS:
    annots.append(dict(x=x / W, y=1 - y / H, xref='paper', yref='paper', text=text, showarrow=False,
                       xanchor=anchor, yanchor='middle', textangle=angle,
                       font=dict(family=FONT, size=size, color=BLACK, weight='bold')))

r = 2.2
for lx, y1, y2 in LEGENDS:
    for yy, col, lab in ((y1, BLACK, 'Vehicle'), (y2, RED, 'VNAM')):
        shapes.append(dict(type='circle', xref='paper', yref='paper',
                           x0=(lx - r) / W, x1=(lx + r) / W, y0=1 - (yy + r) / H, y1=1 - (yy - r) / H,
                           fillcolor=col, line=dict(width=0)))
        annots.append(dict(x=(lx + 5) / W, y=1 - yy / H, xref='paper', yref='paper', text=lab,
                           showarrow=False, xanchor='left', yanchor='middle',
                           font=dict(family=FONT, size=6, color=BLACK, weight='bold')))

fig.update_layout(
    width=W, height=H, margin=dict(l=0, r=0, t=0, b=0, autoexpand=False),
    template='none', paper_bgcolor='white', plot_bgcolor='white',
    showlegend=False, hovermode=False,
    font=dict(family=FONT, size=7, color=BLACK),
    shapes=shapes, annotations=annots, **layout)

fig.write_html('out.html')
